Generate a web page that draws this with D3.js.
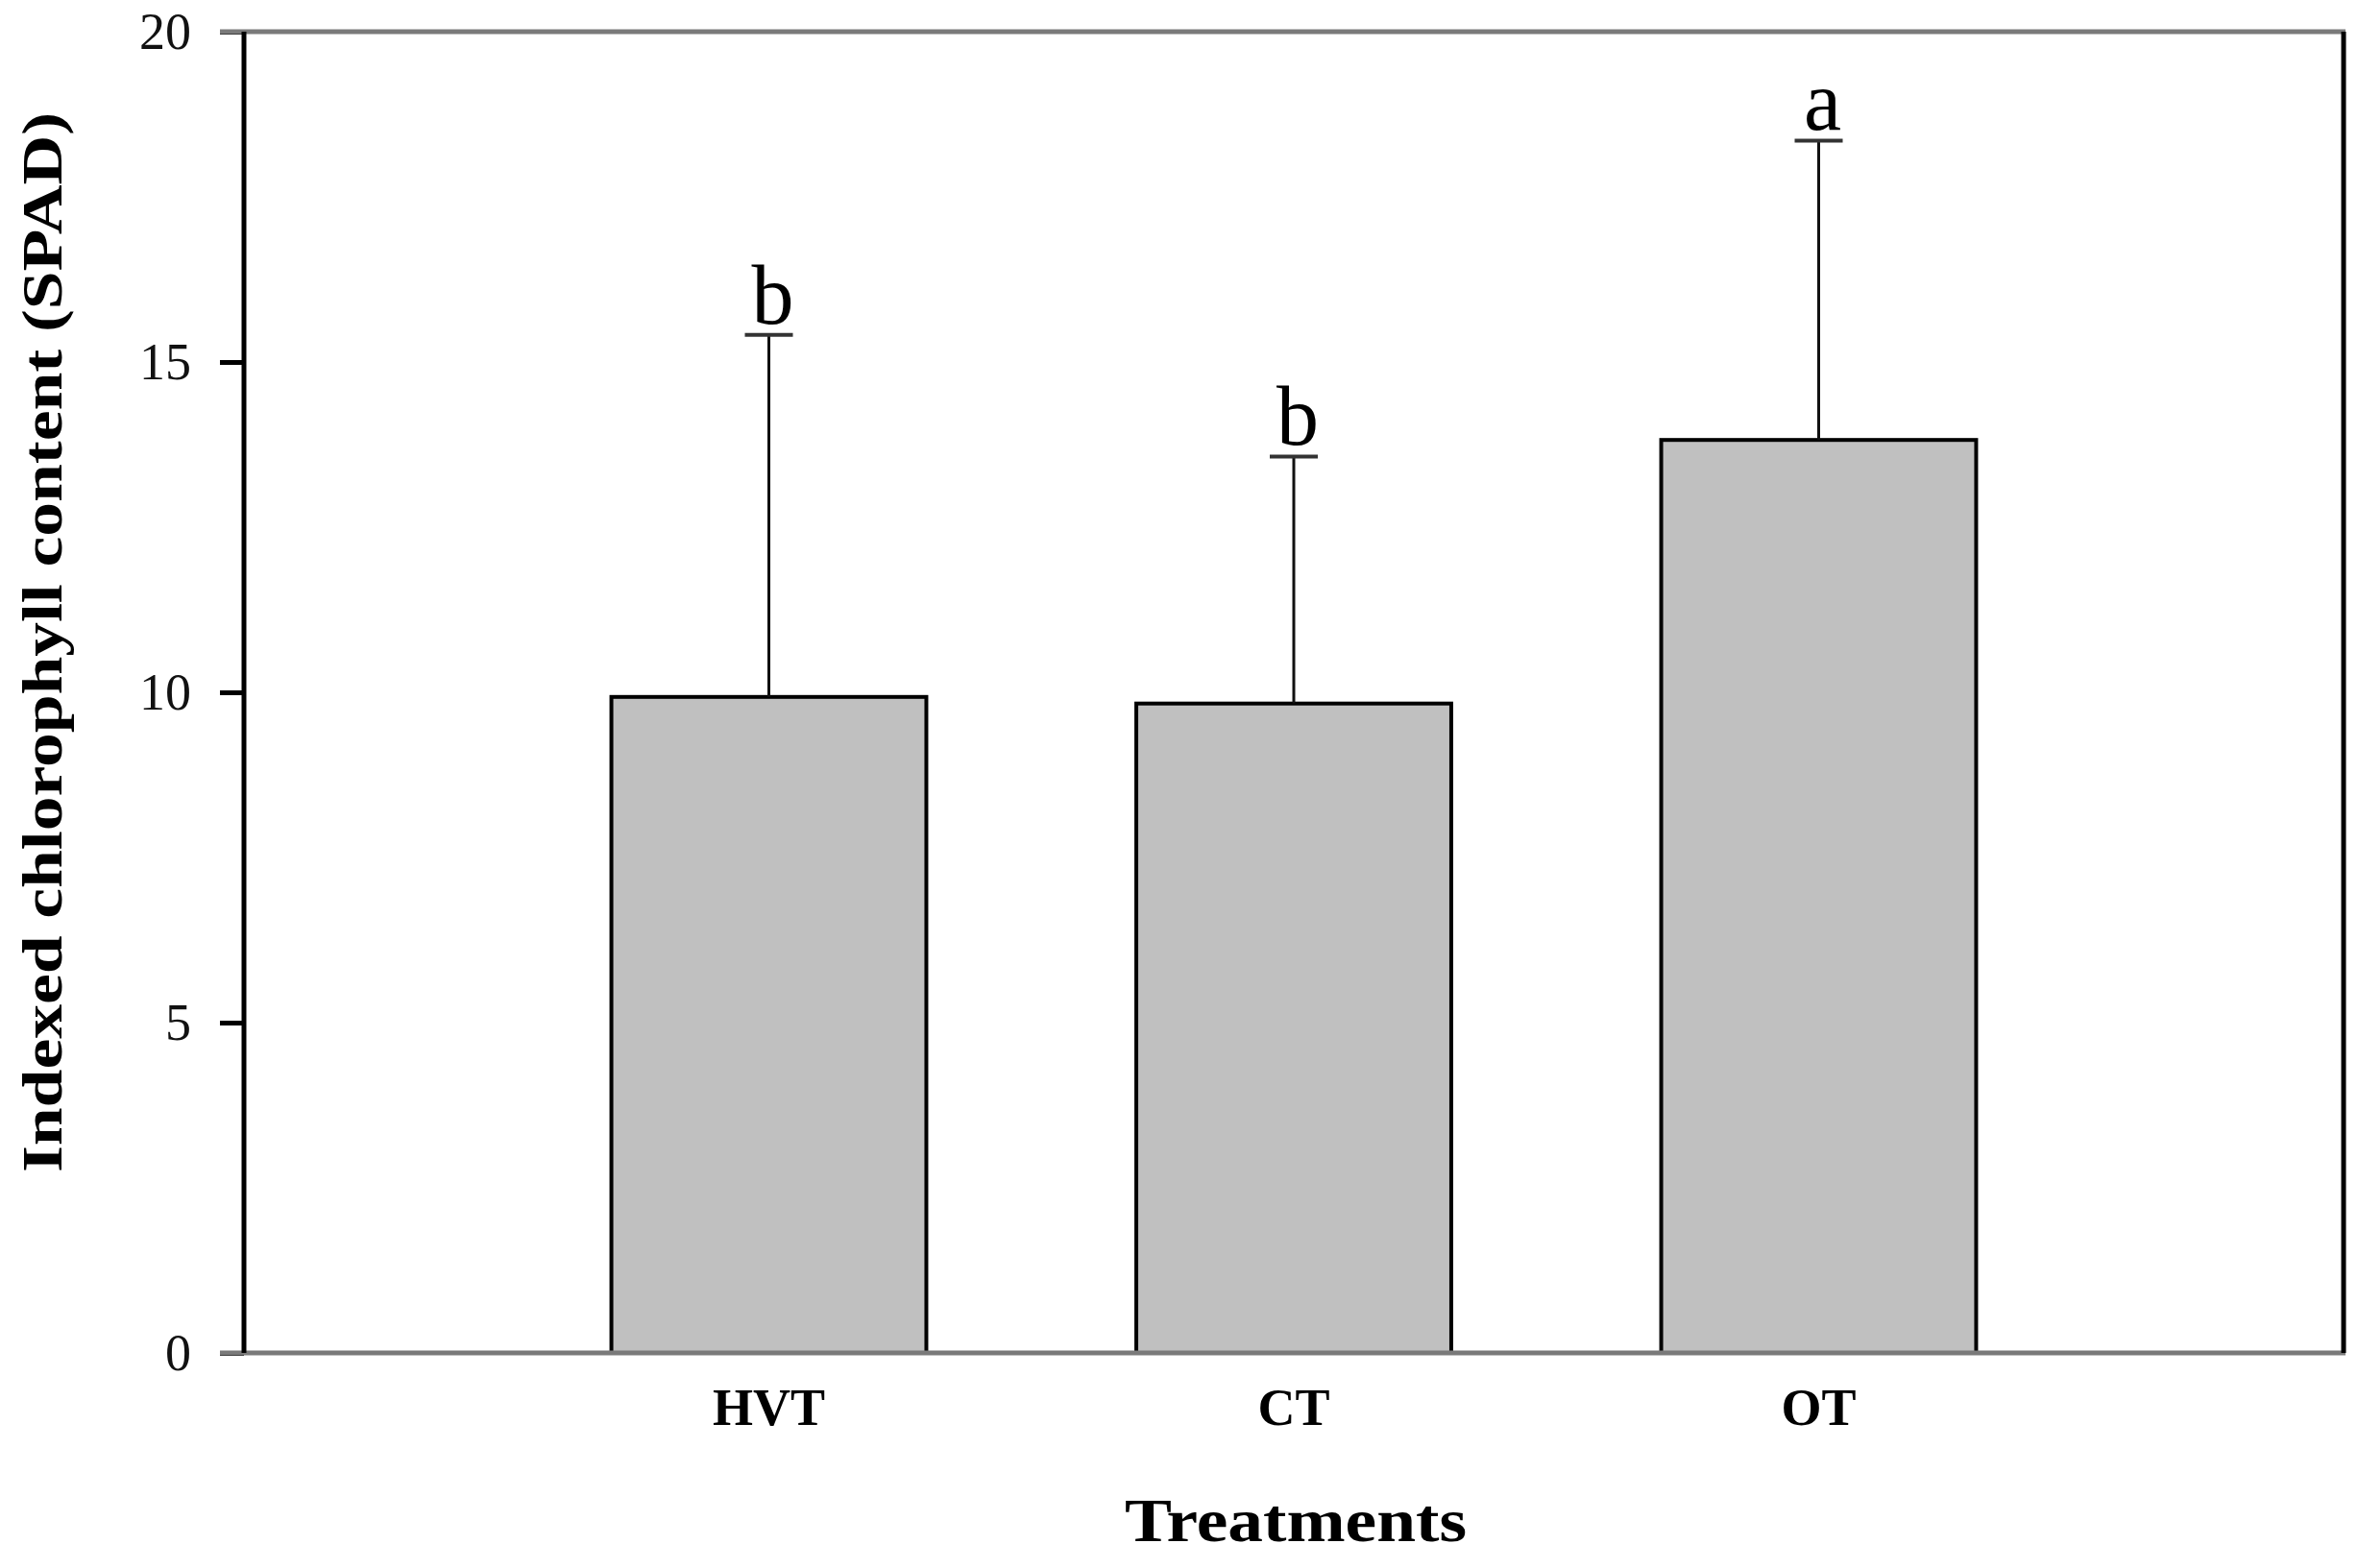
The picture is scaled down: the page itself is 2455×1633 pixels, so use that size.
<!DOCTYPE html>
<html>
<head>
<meta charset="utf-8">
<script src="https://cdn.jsdelivr.net/npm/d3@7"></script>
<style>
  body { margin: 0; background: #fff; }
  text { font-family: "Liberation Serif", "Times New Roman", serif; }
</style>
</head>
<body>
<svg id="chart"></svg>
<script>
'use strict';
// values
const treatments = ['HVT', 'CT', 'OT'];
const means = [9.93, 9.83, 13.82];
const sds = [5.48, 3.74, 4.53];
const letters = ['b', 'b', 'a'];
const yTicks = [0, 5, 10, 15, 20];

const WIDTH = 2455, HEIGHT = 1633;
const PLOT_LEFT = 254, PLOT_RIGHT = 2440, PLOT_TOP = 33, PLOT_BOTTOM = 1409;

let svg = d3.select('#chart')
  .attr('width', WIDTH)
  .attr('height', HEIGHT);

let x = d3.scalePoint().domain(treatments).range([PLOT_LEFT, PLOT_RIGHT]).padding(1);
let y = d3.scaleLinear().domain([0, 20]).range([PLOT_BOTTOM, PLOT_TOP]);
let barWidth = x.step() * 0.6;

// y axis, ticks outward
let yAxis = svg.append('g')
  .attr('transform', 'translate(' + PLOT_LEFT + ',0)')
  .call(d3.axisLeft(y).tickValues(yTicks).tickSize(25).tickPadding(30).tickFormat(d3.format('d')));
yAxis.select('.domain').remove();
yAxis.selectAll('line').attr('stroke', '#000').attr('stroke-width', 5);
yAxis.selectAll('text')
  .attr('font-size', 54)
  .attr('fill', '#111')
  .attr('font-family', '"Liberation Serif", serif');

// bars
let data = treatments.map(function(t, i) { return { t: t, m: means[i], sd: sds[i], lab: letters[i] } });

svg.selectAll('rect.bar')
  .data(data)
  .enter()
  .append('rect')
  .attr('class', 'bar')
  .attr('x', function(d) { return x(d.t) - barWidth / 2 })
  .attr('width', barWidth)
  .attr('y', function(d) { return y(d.m) })
  .attr('height', function(d) { return y(0) - y(d.m) })
  .attr('fill', '#c0c0c0')
  .attr('stroke', '#000')
  .attr('stroke-width', 4);

// upper error bars
svg.selectAll('line.err')
  .data(data)
  .enter()
  .append('line')
  .attr('class', 'err')
  .attr('x1', function(d) { return x(d.t) })
  .attr('x2', function(d) { return x(d.t) })
  .attr('y1', function(d) { return y(d.m) })
  .attr('y2', function(d) { return y(d.m + d.sd) })
  .attr('stroke', '#111')
  .attr('stroke-width', 3);

svg.selectAll('line.cap')
  .data(data)
  .enter()
  .append('line')
  .attr('class', 'cap')
  .attr('x1', function(d) { return x(d.t) - 25 })
  .attr('x2', function(d) { return x(d.t) + 25 })
  .attr('y1', function(d) { return y(d.m + d.sd) })
  .attr('y2', function(d) { return y(d.m + d.sd) })
  .attr('stroke', '#333')
  .attr('stroke-width', 4);

// significance letters
svg.selectAll('text.sig')
  .data(data)
  .enter()
  .append('text')
  .attr('class', 'sig')
  .attr('x', function(d) { return x(d.t) + 4 })
  .attr('y', function(d) { return y(d.m + d.sd) - 12 })
  .attr('text-anchor', 'middle')
  .attr('font-size', 88)
  .attr('fill', '#000')
  .text(function(d) { return d.lab });

// frame: grey top/bottom, black left/right
svg.append('line')
  .attr('x1', 229).attr('x2', PLOT_RIGHT + 2)
  .attr('y1', PLOT_TOP).attr('y2', PLOT_TOP)
  .attr('stroke', '#7a7a7a').attr('stroke-width', 5);
svg.append('line')
  .attr('x1', 229).attr('x2', PLOT_RIGHT + 2)
  .attr('y1', PLOT_BOTTOM).attr('y2', PLOT_BOTTOM)
  .attr('stroke', '#7a7a7a').attr('stroke-width', 5);
svg.append('line')
  .attr('x1', PLOT_LEFT).attr('x2', PLOT_LEFT)
  .attr('y1', PLOT_TOP).attr('y2', PLOT_BOTTOM)
  .attr('stroke', '#000').attr('stroke-width', 5);
svg.append('line')
  .attr('x1', PLOT_RIGHT).attr('x2', PLOT_RIGHT)
  .attr('y1', PLOT_TOP).attr('y2', PLOT_BOTTOM)
  .attr('stroke', '#000').attr('stroke-width', 5);

// category labels
svg.selectAll('text.cat')
  .data(treatments)
  .enter()
  .append('text')
  .attr('class', 'cat')
  .attr('x', function(d) { return x(d) })
  .attr('y', 1484)
  .attr('text-anchor', 'middle')
  .attr('font-size', 54)
  .attr('font-weight', 'bold')
  .text(function(d) { return d });

// axis titles
svg.append('text')
  .attr('x', 1349)
  .attr('y', 1605)
  .attr('text-anchor', 'middle')
  .attr('font-size', 64)
  .attr('font-weight', 'bold')
  .attr('textLength', 356)
  .attr('lengthAdjust', 'spacingAndGlyphs')
  .text('Treatments');

svg.append('text')
  .attr('transform', 'translate(64,669) rotate(-90)')
  .attr('text-anchor', 'middle')
  .attr('font-size', 60)
  .attr('font-weight', 'bold')
  .attr('textLength', 1104)
  .attr('lengthAdjust', 'spacingAndGlyphs')
  .text('Indexed chlorophyll content (SPAD)');
</script>
</body>
</html>
